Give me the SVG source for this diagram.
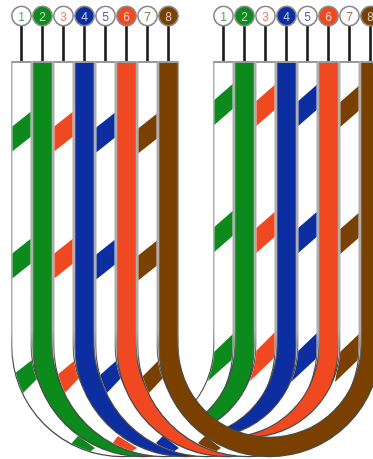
<svg xmlns="http://www.w3.org/2000/svg" width="373" height="459" viewBox="0 0 373 459">
<style>
.e{fill:none;stroke:url(#edge);stroke-width:20.6}
.f{fill:none;stroke-width:18.2}
.w{stroke:#fff}.gs{stroke:#0b8a1e}.rs{stroke:#f04a24}.bs{stroke:#0a2fa0}.ns{stroke:#7a4005}
.g{fill:#0b8a1e}.r{fill:#f04a24}.b{fill:#0a2fa0}.n{fill:#7a4005}.h{fill:#fff}
.ring{stroke:#8a8a8a;stroke-width:1.6}
.stem{stroke:#1a1a1a;stroke-width:2.6;fill:none}
text{font-family:"Liberation Sans",Arial,sans-serif;font-size:12px;text-anchor:middle;opacity:.72}
.tw{fill:#fff}
</style>
<defs>
<linearGradient id="edge" gradientUnits="userSpaceOnUse" x1="0" y1="0" x2="0" y2="459"><stop offset="0.72" stop-color="#9a9a9a"/><stop offset="0.8" stop-color="#4a4a4a"/></linearGradient>
<filter id="soft" x="-2%" y="-2%" width="104%" height="104%"><feGaussianBlur stdDeviation="0.5"/></filter>
<path id="p1" d="M21.5 63V346A101 101 0 0 0 223.5 346V63"/>
<path id="p3" d="M63.5 63V346A101 101 0 0 0 265.5 346V63"/>
<path id="p5" d="M105.5 63V346A101 101 0 0 0 307.5 346V63"/>
<path id="p7" d="M147.5 63V346A101 101 0 0 0 349.5 346V63"/>
<mask id="m1" maskUnits="userSpaceOnUse" x="0" y="0" width="373" height="459"><use href="#p1" fill="none" stroke="#fff" stroke-width="18"/></mask>
<mask id="m3" maskUnits="userSpaceOnUse" x="0" y="0" width="373" height="459"><use href="#p3" fill="none" stroke="#fff" stroke-width="18"/></mask>
<mask id="m5" maskUnits="userSpaceOnUse" x="0" y="0" width="373" height="459"><use href="#p5" fill="none" stroke="#fff" stroke-width="18"/></mask>
<mask id="m7" maskUnits="userSpaceOnUse" x="0" y="0" width="373" height="459"><use href="#p7" fill="none" stroke="#fff" stroke-width="18"/></mask>
</defs>
<g filter="url(#soft)">
<g id="connectors">
<path class="stem" d="M21.5 26V62M42.5 26V62M63.5 26V62M84.5 26V62M105.5 26V62M126.5 26V62M147.5 26V62M168.5 26V62M223.5 26V62M244.5 26V62M265.5 26V62M286.5 26V62M307.5 26V62M328.5 26V62M349.5 26V62M370.5 26V62"/>
</g>
<g id="wire1">
<path class="e" d="M21.5 61V346A101 101 0 0 0 223.5 346V61"/><use href="#p1" class="f w"/>
<g mask="url(#m1)" class="g"><path d="M9 129L33 110V135L9 154Z"/><path d="M9 256L33 237V262L9 281Z"/><path d="M14 374L32 360L37 379L22 394Z"/><path d="M71 444L78 436L95 448L87 454Z"/><path d="M208 381L214 352L236 331V356Z"/><path d="M212 102L236 81V106L212 127Z"/><path d="M212 229L236 208V233L212 254Z"/></g>
</g>
<g id="wire2"><path class="e" d="M42.5 61V346A101 101 0 0 0 244.5 346V61"/><path class="f gs" d="M42.5 63V346A101 101 0 0 0 244.5 346V63"/></g>
<g id="wire3">
<path class="e" d="M63.5 61V346A101 101 0 0 0 265.5 346V61"/><use href="#p3" class="f w"/>
<g mask="url(#m3)" class="r"><path d="M51 129L75 110V135L51 154Z"/><path d="M51 256L75 237V262L51 281Z"/><path d="M56 376L74 361L79 378L64 394Z"/><path d="M112 444L118 436L137 448L128 454Z"/><path d="M250 381L255 352L276 331V356Z"/><path d="M254 103L278 82V107L254 128Z"/><path d="M254 230L278 209V234L254 255Z"/></g>
</g>
<g id="wire4"><path class="e" d="M84.5 61V346A101 101 0 0 0 286.5 346V61"/><path class="f bs" d="M84.5 63V346A101 101 0 0 0 286.5 346V63"/></g>
<g id="wire5">
<path class="e" d="M105.5 61V346A101 101 0 0 0 307.5 346V61"/><use href="#p5" class="f w"/>
<g mask="url(#m5)" class="b"><path d="M93 130L117 111V136L93 155Z"/><path d="M93 257L117 238V263L93 282Z"/><path d="M99 376L116 361L121 378L106 394Z"/><path d="M156 443L163 436L179 448L170 454Z"/><path d="M291 382L297 352L319 331V356Z"/><path d="M296 103L320 82V107L296 128Z"/><path d="M296 230L320 209V234L296 255Z"/></g>
</g>
<g id="wire6"><path class="e" d="M126.5 61V346A101 101 0 0 0 328.5 346V61"/><path class="f rs" d="M126.5 63V346A101 101 0 0 0 328.5 346V63"/></g>
<g id="wire7">
<path class="e" d="M147.5 61V346A101 101 0 0 0 349.5 346V61"/><use href="#p7" class="f w"/>
<g mask="url(#m7)" class="n"><path d="M135 131L159 112V137L135 156Z"/><path d="M135 258L159 239V264L135 283Z"/><path d="M141 378L158 361L163 378L148 394Z"/><path d="M198 443L205 436L221 448L212 454Z"/><path d="M335 382L340 352L361 332V357Z"/><path d="M338 104L362 83V108L338 129Z"/><path d="M338 231L362 210V235L338 256Z"/></g>
</g>
<g id="wire8"><path class="e" d="M168.5 61V346A101 101 0 0 0 370.5 346V61"/><path class="f ns" d="M168.5 63V346A101 101 0 0 0 370.5 346V63"/></g>
<g id="pin-l1"><circle class="h ring" cx="21.5" cy="16" r="9.7"/><text class="g" x="21.5" y="20.5">1</text></g>
<g id="pin-l2"><circle class="g ring" cx="42.5" cy="16" r="9.7"/><text class="tw" x="42.5" y="20.5">2</text></g>
<g id="pin-l3"><circle class="h ring" cx="63.5" cy="16" r="9.7"/><text class="r" x="63.5" y="20.5">3</text></g>
<g id="pin-l4"><circle class="b ring" cx="84.5" cy="16" r="9.7"/><text class="tw" x="84.5" y="20.5">4</text></g>
<g id="pin-l5"><circle class="h ring" cx="105.5" cy="16" r="9.7"/><text class="b" x="105.5" y="20.5">5</text></g>
<g id="pin-l6"><circle class="r ring" cx="126.5" cy="16" r="9.7"/><text class="tw" x="126.5" y="20.5">6</text></g>
<g id="pin-l7"><circle class="h ring" cx="147.5" cy="16" r="9.7"/><text class="n" x="147.5" y="20.5">7</text></g>
<g id="pin-l8"><circle class="n ring" cx="168.5" cy="16" r="9.7"/><text class="tw" x="168.5" y="20.5">8</text></g>
<g id="pin-r1"><circle class="h ring" cx="223.5" cy="16" r="9.7"/><text class="g" x="223.5" y="20.5">1</text></g>
<g id="pin-r2"><circle class="g ring" cx="244.5" cy="16" r="9.7"/><text class="tw" x="244.5" y="20.5">2</text></g>
<g id="pin-r3"><circle class="h ring" cx="265.5" cy="16" r="9.7"/><text class="r" x="265.5" y="20.5">3</text></g>
<g id="pin-r4"><circle class="b ring" cx="286.5" cy="16" r="9.7"/><text class="tw" x="286.5" y="20.5">4</text></g>
<g id="pin-r5"><circle class="h ring" cx="307.5" cy="16" r="9.7"/><text class="b" x="307.5" y="20.5">5</text></g>
<g id="pin-r6"><circle class="r ring" cx="328.5" cy="16" r="9.7"/><text class="tw" x="328.5" y="20.5">6</text></g>
<g id="pin-r7"><circle class="h ring" cx="349.5" cy="16" r="9.7"/><text class="n" x="349.5" y="20.5">7</text></g>
<g id="pin-r8"><circle class="n ring" cx="370.5" cy="16" r="9.7"/><text class="tw" x="370.5" y="20.5">8</text></g>
</g>
</svg>
